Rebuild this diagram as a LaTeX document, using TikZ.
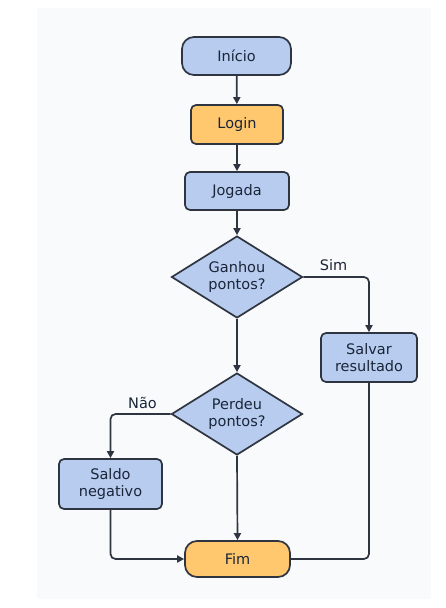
\documentclass[tikz,border=0pt]{standalone}
\usepackage{fontspec}
\setmainfont{DejaVu Sans}
\usetikzlibrary{shapes.geometric,arrows.meta}
\definecolor{bluefill}{HTML}{B7CCEF}
\definecolor{orfill}{HTML}{FFC76E}
\definecolor{strokec}{HTML}{2F3540}
\definecolor{textc}{HTML}{1A2538}
\definecolor{panelc}{HTML}{F9FAFC}
\begin{document}
\begin{tikzpicture}[x=1pt,y=-1pt,
  base/.style={draw=strokec,line width=1.7pt,text=textc,inner sep=0pt,align=center,
    font=\fontsize{14.5pt}{17.3pt}\selectfont},
  term/.style={base,rectangle,rounded corners=12pt},
  proc/.style={base,rectangle,rounded corners=5pt},
  dec/.style={base,diamond,aspect=1.6,minimum width=131pt,minimum height=82pt},
  conn/.style={draw=strokec,line width=1.7pt,rounded corners=5pt},
  arr/.style={conn,-{Triangle[length=7pt,width=7pt]}},
  lbl/.style={text=textc,inner sep=0pt,font=\fontsize{14.5pt}{17.3pt}\selectfont}]
\useasboundingbox (0,0) rectangle (445,608);
\fill[white] (0,0) rectangle (445,608);
\fill[panelc] (37,8) rectangle (431,599);
\node[term,fill=bluefill,minimum width=109pt,minimum height=38pt] (inicio) at (236.5,56) {Início};
\node[proc,fill=orfill,minimum width=92pt,minimum height=39pt] (login) at (237,124.5) {Login};
\node[proc,fill=bluefill,minimum width=104pt,minimum height=38pt] (jogada) at (237,191) {Jogada};
\node[dec,fill=bluefill] (ganhou) at (237,277) {Ganhou\\pontos?};
\node[proc,fill=bluefill,minimum width=96pt,minimum height=49pt] (salvar) at (369,357.5) {Salvar\\resultado};
\node[dec,fill=bluefill] (perdeu) at (237,414) {Perdeu\\pontos?};
\node[proc,fill=bluefill,minimum width=103pt,minimum height=50pt] (saldo) at (110.5,484) {Saldo\\negativo};
\node[term,fill=orfill,minimum width=105pt,minimum height=36pt] (fim) at (237.5,559) {Fim};
\coordinate (c1) at (369,277);
\coordinate (c2) at (110.5,414);
\coordinate (c3) at (110.5,559);
\coordinate (c4) at (369,559);
\draw[arr] (inicio) -- (login);
\draw[arr] (login) -- (jogada);
\draw[arr] (jogada) -- (ganhou);
\draw[arr] (ganhou) -- (perdeu);
\draw[arr] (ganhou.east) -- (c1) -- (salvar.north);
\draw[arr] (perdeu.west) -- (c2) -- (saldo.north);
\draw[arr] (perdeu.south) -- (fim.north);
\draw[arr] (saldo.south) -- (c3) -- (fim.west);
\draw[conn] (salvar.south) -- (c4) -- (fim.east);
\node[lbl] (sim) at (333.5,265) {Sim};
\node[lbl] (nao) at (142.5,403) {Não};
\end{tikzpicture}
\end{document}
